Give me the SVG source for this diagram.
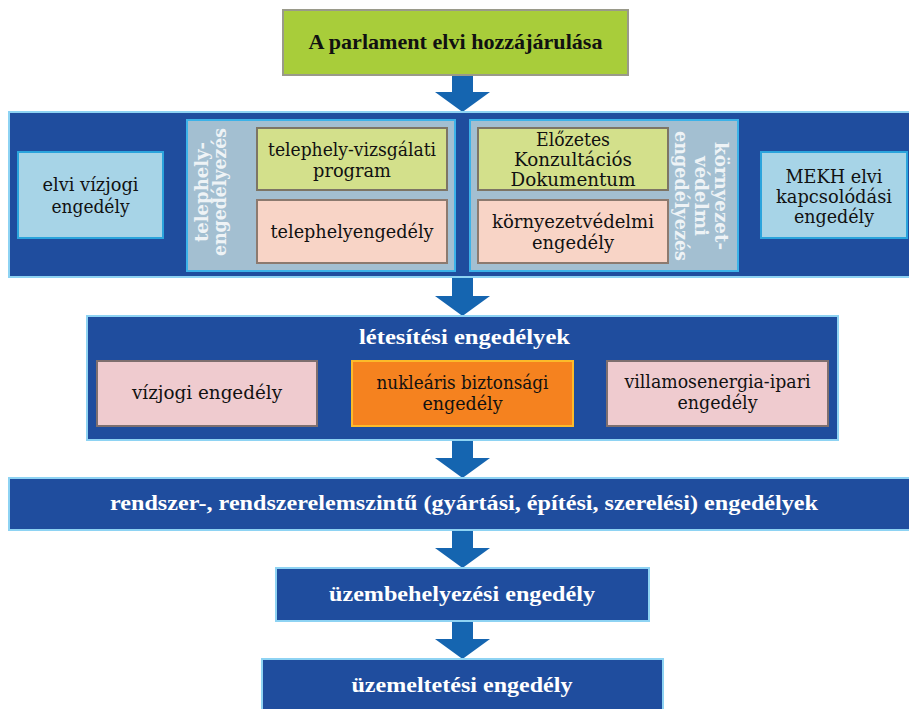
<svg xmlns="http://www.w3.org/2000/svg" width="909" height="709" viewBox="0 0 909 709">
<style>
.band{fill:#1f4d9e;stroke:#8ed3f3;stroke-width:2}
.panel{fill:#a3bfd1;stroke:#3cb2e8;stroke-width:2}
.lblue{fill:#a7d4e7;stroke:#2ba4dc;stroke-width:2}
.green{fill:#d3e08b;stroke:#7d7565;stroke-width:2}
.peach{fill:#f8d4c6;stroke:#8c7a6f;stroke-width:2}
.pink{fill:#efcbcf;stroke:#7e6f6f;stroke-width:2}
.orange{fill:#f5821f;stroke:#fcbb2a;stroke-width:2}
.arrow{fill:#1565b0}
text{font-family:"Liberation Serif","Times New Roman",serif;text-anchor:middle}
.t{font-family:"DejaVu Serif Condensed","DejaVu Serif",serif;font-size:18px;fill:#111}
.n{font-family:"DejaVu Serif Condensed","DejaVu Serif",serif;font-size:18.5px;fill:#111}
.w{font-size:22px;fill:#fff;font-weight:bold}
.rot{font-family:"DejaVu Serif Condensed","DejaVu Serif",serif;font-size:19px;fill:#eef3f6;font-weight:bold}
.top{font-size:22px;fill:#111;font-weight:bold}
</style>
<g id="connectors">
<polygon class="arrow" points="452,75 473,75 473,92 490,92 462.5,112 435,92 452,92"/>
<polygon class="arrow" points="452,278 473,278 473,296 490,296 462.5,316 435,296 452,296"/>
<polygon class="arrow" points="452,440 473,440 473,458 490,458 462.5,478 435,458 452,458"/>
<polygon class="arrow" points="452,530 473,530 473,548 490,548 462.5,568 435,548 452,548"/>
<polygon class="arrow" points="452,622 473,622 473,639 490,639 462.5,659 435,639 452,639"/>
</g>
<g id="parlament">
<rect x="283" y="10" width="345" height="65" fill="#a8cd3a" stroke="#9a9a8a" stroke-width="2"/>
<text class="top" x="455.5" y="49" textLength="294" lengthAdjust="spacingAndGlyphs">A parlament elvi hozzájárulása</text>
</g>
<g id="band1">
<rect class="band" x="9" y="112" width="906" height="165"/>
</g>
<g id="elvi-vizjogi">
<rect class="lblue" x="18" y="152" width="145" height="86"/>
<text class="t" x="90.5" y="191" textLength="96" lengthAdjust="spacingAndGlyphs">elvi vízjogi</text>
<text class="t" x="90.5" y="213" textLength="78" lengthAdjust="spacingAndGlyphs">engedély</text>
</g>
<g id="telephely-panel">
<rect class="panel" x="187" y="120" width="268" height="151"/>
<text class="rot" transform="translate(208,192) rotate(-90)" textLength="100" lengthAdjust="spacingAndGlyphs">telephely-</text>
<text class="rot" transform="translate(226,192) rotate(-90)" textLength="128" lengthAdjust="spacingAndGlyphs">engedélyezés</text>
</g>
<g id="telephely-vizsgalati">
<rect class="green" x="257" y="128" width="190" height="62"/>
<text class="t" x="352" y="156" textLength="168" lengthAdjust="spacingAndGlyphs">telephely-vizsgálati</text>
<text class="t" x="352" y="177" textLength="78" lengthAdjust="spacingAndGlyphs">program</text>
</g>
<g id="telephelyengedely">
<rect class="peach" x="257" y="200" width="190" height="63"/>
<text class="t" x="352" y="238" textLength="163" lengthAdjust="spacingAndGlyphs">telephelyengedély</text>
</g>
<g id="kornyezet-panel">
<rect class="panel" x="470" y="120" width="268" height="151"/>
<text class="rot" transform="translate(715,196) rotate(90)" textLength="108" lengthAdjust="spacingAndGlyphs">környezet-</text>
<text class="rot" transform="translate(695,196) rotate(90)" textLength="80" lengthAdjust="spacingAndGlyphs">védelmi</text>
<text class="rot" transform="translate(675,196) rotate(90)" textLength="130" lengthAdjust="spacingAndGlyphs">engedélyezés</text>
</g>
<g id="elozetes">
<rect class="green" x="478" y="128" width="190" height="62"/>
<text class="t" x="573" y="146" textLength="74" lengthAdjust="spacingAndGlyphs">Előzetes</text>
<text class="t" x="573" y="166" textLength="118" lengthAdjust="spacingAndGlyphs">Konzultációs</text>
<text class="t" x="573" y="186" textLength="125" lengthAdjust="spacingAndGlyphs">Dokumentum</text>
</g>
<g id="kornyezetvedelmi">
<rect class="peach" x="478" y="200" width="190" height="63"/>
<text class="t" x="573" y="228" textLength="162" lengthAdjust="spacingAndGlyphs">környezetvédelmi</text>
<text class="t" x="573" y="249" textLength="82" lengthAdjust="spacingAndGlyphs">engedély</text>
</g>
<g id="mekh">
<rect class="lblue" x="761" y="152" width="146" height="86"/>
<text class="t" x="834" y="183" textLength="97" lengthAdjust="spacingAndGlyphs">MEKH elvi</text>
<text class="t" x="834" y="203" textLength="116" lengthAdjust="spacingAndGlyphs">kapcsolódási</text>
<text class="t" x="834" y="223" textLength="80" lengthAdjust="spacingAndGlyphs">engedély</text>
</g>
<g id="letesitesi">
<rect class="band" x="87" y="316" width="751" height="124"/>
<text class="w" x="464.5" y="344" textLength="211" lengthAdjust="spacingAndGlyphs">létesítési engedélyek</text>
</g>
<g id="vizjogi">
<rect class="pink" x="97" y="361" width="220" height="65"/>
<text class="n" x="207" y="399" textLength="150" lengthAdjust="spacingAndGlyphs">vízjogi engedély</text>
</g>
<g id="nuklearis">
<rect class="orange" x="352" y="361" width="221" height="65"/>
<text class="n" x="462.5" y="389" textLength="172" lengthAdjust="spacingAndGlyphs">nukleáris biztonsági</text>
<text class="n" x="462.5" y="410" textLength="80" lengthAdjust="spacingAndGlyphs">engedély</text>
</g>
<g id="villamosenergia">
<rect class="pink" x="607" y="361" width="221" height="65"/>
<text class="n" x="717.5" y="388" textLength="186" lengthAdjust="spacingAndGlyphs">villamosenergia-ipari</text>
<text class="n" x="717.5" y="409" textLength="80" lengthAdjust="spacingAndGlyphs">engedély</text>
</g>
<g id="rendszer">
<rect class="band" x="9" y="478" width="906" height="52"/>
<text class="w" x="464" y="510" textLength="708" lengthAdjust="spacingAndGlyphs">rendszer-, rendszerelemszintű (gyártási, építési, szerelési) engedélyek</text>
</g>
<g id="uzembehelyezesi">
<rect class="band" x="276" y="568" width="373" height="53"/>
<text class="w" x="462" y="601" textLength="266" lengthAdjust="spacingAndGlyphs">üzembehelyezési engedély</text>
</g>
<g id="uzemeltetesi">
<rect class="band" x="262" y="659" width="401" height="60"/>
<text class="w" x="462" y="692" textLength="221" lengthAdjust="spacingAndGlyphs">üzemeltetési engedély</text>
</g>
</svg>
